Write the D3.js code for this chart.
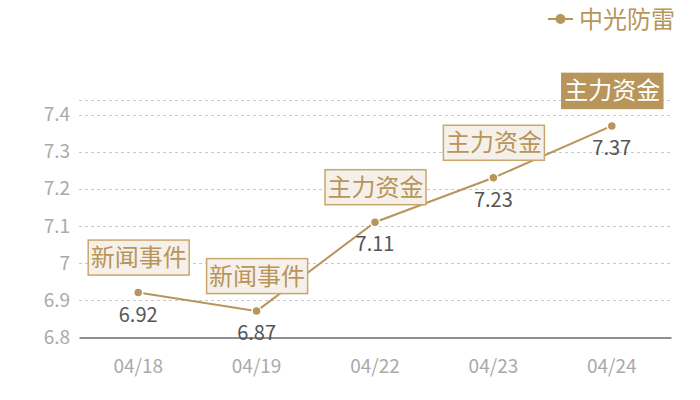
<!DOCTYPE html>
<html>
<head>
<meta charset="utf-8">
<script src="https://cdn.jsdelivr.net/npm/d3@7/dist/d3.min.js"></script>
<style>
	body { margin: 0; background: #fff; }
	text { font-family: "Noto Sans CJK SC", "Noto Sans", sans-serif; }
</style>
</head>
<body>
<div id="chart"></div>
<script>
const dates = ["04/18", "04/19", "04/22", "04/23", "04/24"];
const values = [6.92, 6.87, 7.11, 7.23, 7.37];
const events = ["新闻事件", "新闻事件", "主力资金", "主力资金", "主力资金"];
const yTicks = [6.8, 6.9, 7.0, 7.1, 7.2, 7.3, 7.4];
const seriesName = "中光防雷";
const selectedIndex = 4;

const width = 700;
const height = 400;
const margins = { top: 100, right: 29, bottom: 63, left: 79 };
const gold = "#b8955a";

const svg = d3.select("#chart").append("svg")
	.attr("width", width)
	.attr("height", height);

const xScale = d3.scaleBand()
	.domain(dates)
	.range([margins.left, width - margins.right]);

const yScale = d3.scaleLinear()
	.domain([6.8, 7.44])
	.range([height - margins.bottom, margins.top]);

const cx = d => xScale(d) + xScale.bandwidth() / 2;

// Grid lines (dashed), including the top edge of the plot
const gridValues = yTicks.slice(1).concat([yScale.domain()[1]]);
svg.append("g")
	.selectAll("line")
	.data(gridValues)
	.join("line")
	.attr("x1", margins.left)
	.attr("x2", width - margins.right)
	.attr("y1", d => Math.round(yScale(d)) + 0.5)
	.attr("y2", d => Math.round(yScale(d)) + 0.5)
	.attr("stroke", "#c8c8c8")
	.attr("stroke-dasharray", "3,3");

// Y axis labels
const yAxis = svg.append("g")
	.attr("transform", `translate(${margins.left}, 0)`)
	.call(d3.axisLeft(yScale).tickValues(yTicks).tickSize(0).tickPadding(9).tickFormat(d3.format("")));
yAxis.select(".domain").remove();
yAxis.selectAll("text")
	.attr("fill", "#aaaaaa")
	.attr("font-size", "19px")
	.style("font-family", "'Noto Sans CJK SC', sans-serif");

// X axis
const xAxis = svg.append("g")
	.attr("transform", `translate(0, ${Math.round(yScale(6.8)) + 0.5})`)
	.call(d3.axisBottom(xScale).tickSize(0).tickPadding(22));
xAxis.select(".domain").attr("stroke", "#222222").attr("stroke-width", 1.2);
xAxis.selectAll("text")
	.attr("fill", "#aaaaaa")
	.attr("font-size", "19px")
	.style("font-family", "'Noto Sans CJK SC', sans-serif");

// Line
const line = d3.line()
	.x((d, i) => cx(dates[i]))
	.y(d => yScale(d));

svg.append("path")
	.attr("d", line(values))
	.attr("fill", "none")
	.attr("stroke", gold)
	.attr("stroke-width", 2);

// Points
svg.append("g")
	.selectAll("circle")
	.data(values)
	.join("circle")
	.attr("cx", (d, i) => cx(dates[i]))
	.attr("cy", d => yScale(d))
	.attr("r", 4.5)
	.attr("fill", gold)
	.attr("stroke", "#fff")
	.attr("stroke-width", 1.5);

// Value labels
svg.append("g")
	.selectAll("text")
	.data(values)
	.join("text")
	.attr("x", (d, i) => cx(dates[i]))
	.attr("y", d => yScale(d) + 29)
	.attr("text-anchor", "middle")
	.attr("fill", "#555555")
	.attr("font-size", "20px")
	.text(d => d3.format(".2f")(d));

// Event annotation boxes
const boxW = 101, boxH = 35, boxGap = 18;
const boxes = svg.append("g")
	.selectAll("g")
	.data(values)
	.join("g")
	.attr("transform", (d, i) => `translate(${cx(dates[i]) - boxW / 2}, ${yScale(d) - boxGap - boxH})`);

boxes.append("rect")
	.attr("x", 0.5)
	.attr("y", 0.5)
	.attr("width", boxW)
	.attr("height", boxH)
	.attr("fill", (d, i) => i === selectedIndex ? gold : "#f5f1ea")
	.attr("stroke", (d, i) => i === selectedIndex ? gold : "#c9a76b")
	.attr("stroke-width", 1.5);

boxes.append("text")
	.attr("x", boxW / 2 + 0.5)
	.attr("y", boxH / 2 + 9)
	.attr("text-anchor", "middle")
	.attr("font-size", "24px")
	.attr("fill", (d, i) => i === selectedIndex ? "#ffffff" : gold)
	.text((d, i) => events[i]);

// Legend
const legend = svg.append("g").attr("transform", "translate(548, 19)");
legend.append("line")
	.attr("x1", 0).attr("x2", 25)
	.attr("stroke", gold).attr("stroke-width", 2);
legend.append("circle")
	.attr("cx", 12.5).attr("r", 5)
	.attr("fill", gold);
legend.append("text")
	.attr("x", 31)
	.attr("y", 9)
	.attr("font-size", "24px")
	.attr("fill", gold)
	.text(seriesName);
</script>
</body>
</html>
